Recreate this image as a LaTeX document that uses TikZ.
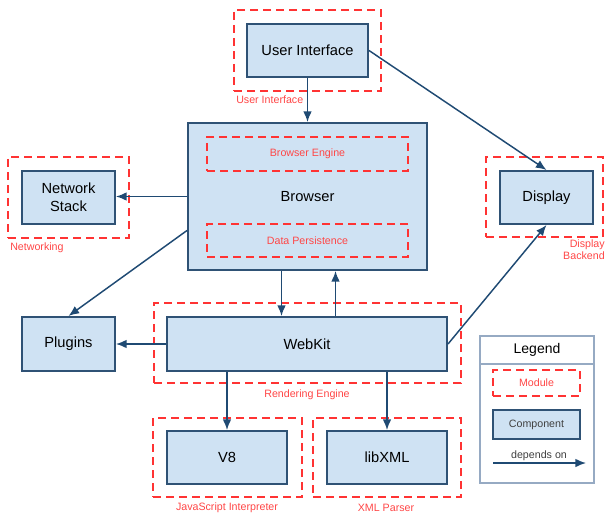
\documentclass[tikz,border=0pt]{standalone}
\usepackage{fontspec}
\setmainfont{Liberation Sans}
\usetikzlibrary{arrows.meta,calc}
\definecolor{boxfill}{RGB}{207,226,243}
\definecolor{boxline}{RGB}{47,82,117}
\definecolor{arrowc}{RGB}{31,74,115}
\definecolor{modred}{RGB}{255,51,51}
\definecolor{labred}{RGB}{255,70,70}
\definecolor{legline}{RGB}{150,170,195}
\begin{document}
\begin{tikzpicture}[x=0.75pt,y=-0.75pt,
  bx/.style n args={4}{at={({(#1+#3)/2},{(#2+#4)/2})},
    minimum width={(#3-#1)*0.75pt}, minimum height={(#4-#2)*0.75pt}},
  comp/.style={draw=boxline, fill=boxfill, line width=1.5pt, inner sep=0pt,
    font=\fontsize{11}{13.5}\selectfont, text=black, align=center},
  module/.style={draw=modred, line width=1.5pt, dash pattern=on 6pt off 3.75pt,
    inner sep=0pt, font=\fontsize{8}{9.5}\selectfont, text=labred},
  mlabel/.style={font=\fontsize{8}{9}\selectfont, text=labred, inner sep=0pt},
  dep/.style={draw=arrowc, line width=1.1pt, -{Latex[length=8pt,width=6.5pt]}},
]
\useasboundingbox (0,0) rectangle (605,513);

% modules
\node[module, bx={234}{10}{381}{91}] (mui) {};
\node[module, bx={8}{157}{129}{238}] (mnet) {};
\node[module, bx={486}{157}{603}{237}] (mdisp) {};
\node[module, bx={154}{303}{461}{383}] (mrend) {};
\node[module, bx={153}{418}{302}{497}] (mjs) {};
\node[module, bx={313}{418}{461}{497}] (mxml) {};

% module labels
\node[mlabel, anchor=west] (lui) at (236,100) {User Interface};
\node[mlabel, anchor=west] (lnet) at (10,248) {Networking};
\node[mlabel, anchor=east, align=right] (ldisp) at (605,250) {Display\\Backend};
\node[mlabel] (lrend) at (307,395) {Rendering Engine};
\node[mlabel] (ljs) at (227,508) {JavaScript Interpreter};
\node[mlabel] (lxml) at (386,508) {XML Parser};

% components
\node[comp, bx={247}{24}{368}{77}] (ui) {User Interface};
\node[comp, bx={188}{123}{427}{270}] (browser) {Browser};
\node[module, fill=boxfill, bx={207}{137}{408}{171}] (beng) {Browser Engine};
\node[module, fill=boxfill, bx={207}{224}{408}{257}] (dpers) {Data Persistence};
\node[comp, bx={22}{171}{115}{224}] (net) {Network\\Stack};
\node[comp, bx={500}{171}{593}{224}] (disp) {Display};
\node[comp, bx={22}{317}{115}{371}] (plug) {Plugins};
\node[comp, bx={167}{317}{447}{371}] (webkit) {WebKit};
\node[comp, bx={167}{431}{287}{484}] (v8) {V8};
\node[comp, bx={327}{431}{447}{484}] (libxml) {libXML};

% connectors
\draw[dep] (ui.south) -- (browser.north);
\draw[dep] (ui.east) -- (disp.north);
\draw[dep] (browser.west) -- (browser.west -| net.east);
\path (browser.west) ++(0,34) coordinate (bpl);
\draw[dep] (bpl) -- (plug.north);
\path (browser.south) ++(-26,0) coordinate (bw1);
\path (browser.south) ++(28,0) coordinate (bw2);
\draw[dep] (bw1) -- (bw1 |- webkit.north);
\draw[dep] (bw2 |- webkit.north) -- (bw2);
\draw[dep] (webkit.west) -- (webkit.west -| plug.east);
\draw[dep] (webkit.east) -- (disp.south);
\draw[dep] (webkit.south -| v8.north) -- (v8.north);
\draw[dep] (webkit.south -| libxml.north) -- (libxml.north);

% legend
\node[draw=legline, line width=0.8pt, inner sep=0pt, bx={480}{336}{594}{483}] (legend) {};
\coordinate (lh1) at (480,364);
\draw[draw=legline, line width=0.8pt] (lh1) -- (lh1 -| legend.east);
\node[font=\fontsize{10.5}{12}\selectfont, text=black] (legt) at (537,350) {Legend};
\node[module, bx={493}{370}{580}{396}] (legmod) {Module};
\node[comp, bx={493}{410}{580}{439}, font=\fontsize{8}{9.5}\selectfont, text=black!75] (legcomp) {Component};
\coordinate (la1) at (493,463);
\coordinate (la2) at (586,463);
\draw[dep] (la1) -- (la2);
\node[font=\fontsize{8}{9}\selectfont, text=black!75, inner sep=0pt] (legdep) at (539,456) {depends on};
\end{tikzpicture}
\end{document}
